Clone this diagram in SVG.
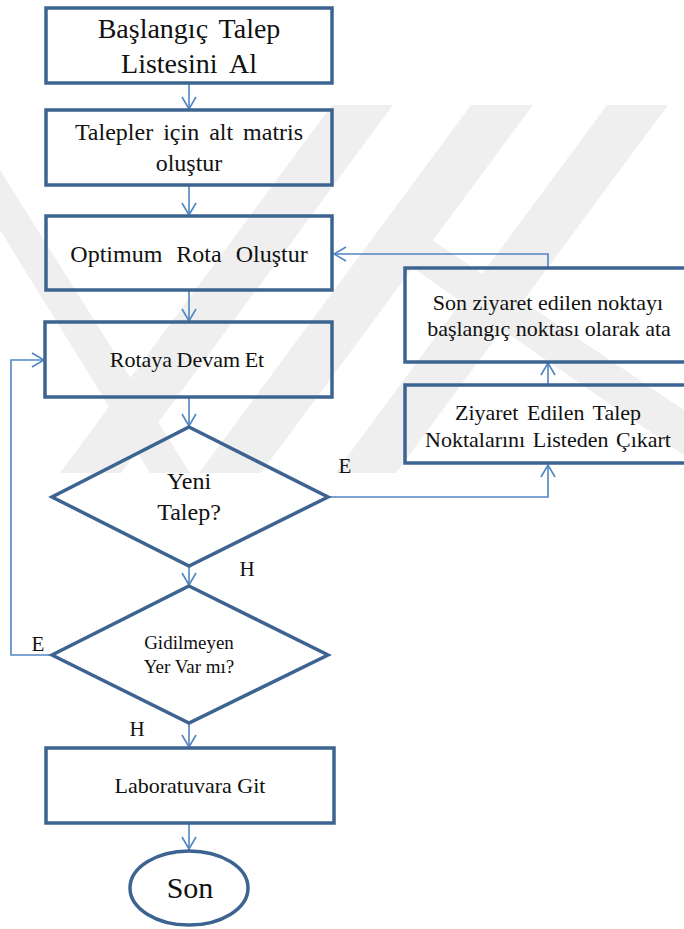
<svg xmlns="http://www.w3.org/2000/svg" width="684" height="929" viewBox="0 0 684 929">
  <style>
    .box { fill: none; stroke: #3d6491; stroke-width: 3.5; }
    .wire { fill: none; stroke: #5185c2; stroke-width: 1.6; }
    .lbl { font-family: "Liberation Serif", "Times New Roman", serif; fill: #111; text-anchor: middle; }
    .wm { fill: #efefef; }
  </style>
  <defs>
    <marker id="arr" viewBox="0 0 14 16" refX="13" refY="8" markerWidth="14" markerHeight="16" markerUnits="userSpaceOnUse" orient="auto">
      <path d="M1,1 L13,8 L1,15" fill="none" stroke="#5185c2" stroke-width="1.6"/>
    </marker>
  </defs>

  <rect width="684" height="929" fill="#ffffff"/>

  <!-- faint background emblem -->
  <g id="emblem">
    <polygon class="wm" points="332,105 393,105 121,473 60,473"/>
    <polygon class="wm" points="471,105 533,105 261,473 199,473"/>
    <polygon class="wm" points="607,105 668,105 396,473 335,473"/>
    <polygon class="wm" points="0,170 0,230 150,473 190,473"/>
    <polygon class="wm" points="372,240 432,240 684,410 684,455"/>
  </g>

  <!-- connectors -->
  <g id="connectors">
    <line class="wire" x1="189" y1="83" x2="189" y2="109" marker-end="url(#arr)"/>
    <line class="wire" x1="189" y1="186" x2="189" y2="215" marker-end="url(#arr)"/>
    <line class="wire" x1="189" y1="291" x2="189" y2="321" marker-end="url(#arr)"/>
    <line class="wire" x1="189" y1="398" x2="189" y2="426" marker-end="url(#arr)"/>
    <line class="wire" x1="189" y1="567" x2="189" y2="585" marker-end="url(#arr)"/>
    <line class="wire" x1="189" y1="724" x2="189" y2="747" marker-end="url(#arr)"/>
    <line class="wire" x1="189" y1="824" x2="189" y2="849" marker-end="url(#arr)"/>
    <polyline class="wire" points="328,497 548,497 548,465" marker-end="url(#arr)"/>
    <line class="wire" x1="548" y1="385" x2="548" y2="363" marker-end="url(#arr)"/>
    <polyline class="wire" points="548,267 548,254 334,254" marker-end="url(#arr)"/>
    <polyline class="wire" points="52,655 11,655 11,360 44,360" marker-end="url(#arr)"/>
  </g>

  <!-- branch labels -->
  <g id="branch-labels" class="lbl" font-size="21">
    <text x="345" y="473">E</text>
    <text x="247" y="576">H</text>
    <text x="38" y="651">E</text>
    <text x="137" y="736">H</text>
  </g>

  <g id="n-start">
    <rect class="box" x="46" y="8" width="286" height="75"/>
    <text class="lbl" font-size="28" word-spacing="4" x="189" y="38">Başlangıç Talep</text>
    <text class="lbl" font-size="28" word-spacing="6" x="189" y="73">Listesini Al</text>
  </g>

  <g id="n-matrix">
    <rect class="box" x="46" y="110" width="286" height="75"/>
    <text class="lbl" font-size="24" word-spacing="4" x="189" y="140">Talepler için alt matris</text>
    <text class="lbl" font-size="24" x="189" y="171">oluştur</text>
  </g>

  <g id="n-route">
    <rect class="box" x="46" y="216" width="286" height="74"/>
    <text class="lbl" font-size="24" word-spacing="8" x="189" y="262">Optimum Rota Oluştur</text>
  </g>

  <g id="n-continue">
    <rect class="box" x="45" y="322" width="287" height="75"/>
    <text class="lbl" font-size="22" word-spacing="-1" x="187" y="367">Rotaya Devam Et</text>
  </g>

  <g id="n-new-request">
    <polygon class="box" points="189,427 328,497 189,566 52,497"/>
    <text class="lbl" font-size="24" x="189" y="489">Yeni</text>
    <text class="lbl" font-size="24" x="189" y="520">Talep?</text>
  </g>

  <g id="n-unvisited">
    <polygon class="box" points="189,586 328,655 189,723 52,655"/>
    <text class="lbl" font-size="19" x="189" y="649">Gidilmeyen</text>
    <text class="lbl" font-size="19" x="189" y="673">Yer Var mı?</text>
  </g>

  <g id="n-lab">
    <rect class="box" x="46" y="748" width="288" height="75"/>
    <text class="lbl" font-size="22" x="190" y="793">Laboratuvara Git</text>
  </g>

  <g id="n-end">
    <ellipse class="box" cx="189" cy="888" rx="59" ry="37"/>
    <text class="lbl" font-size="30" x="190" y="898">Son</text>
  </g>

  <g id="n-reset-start">
    <rect class="box" x="405" y="268" width="284" height="94"/>
    <text class="lbl" font-size="22" x="548" y="310">Son ziyaret edilen noktayı</text>
    <text class="lbl" font-size="22" x="549" y="336">başlangıç noktası olarak ata</text>
  </g>

  <g id="n-remove-visited">
    <rect class="box" x="405" y="385" width="284" height="78"/>
    <text class="lbl" font-size="22" word-spacing="3" x="548" y="420">Ziyaret Edilen Talep</text>
    <text class="lbl" font-size="22" word-spacing="2" x="548" y="447">Noktalarını Listeden Çıkart</text>
  </g>
</svg>
